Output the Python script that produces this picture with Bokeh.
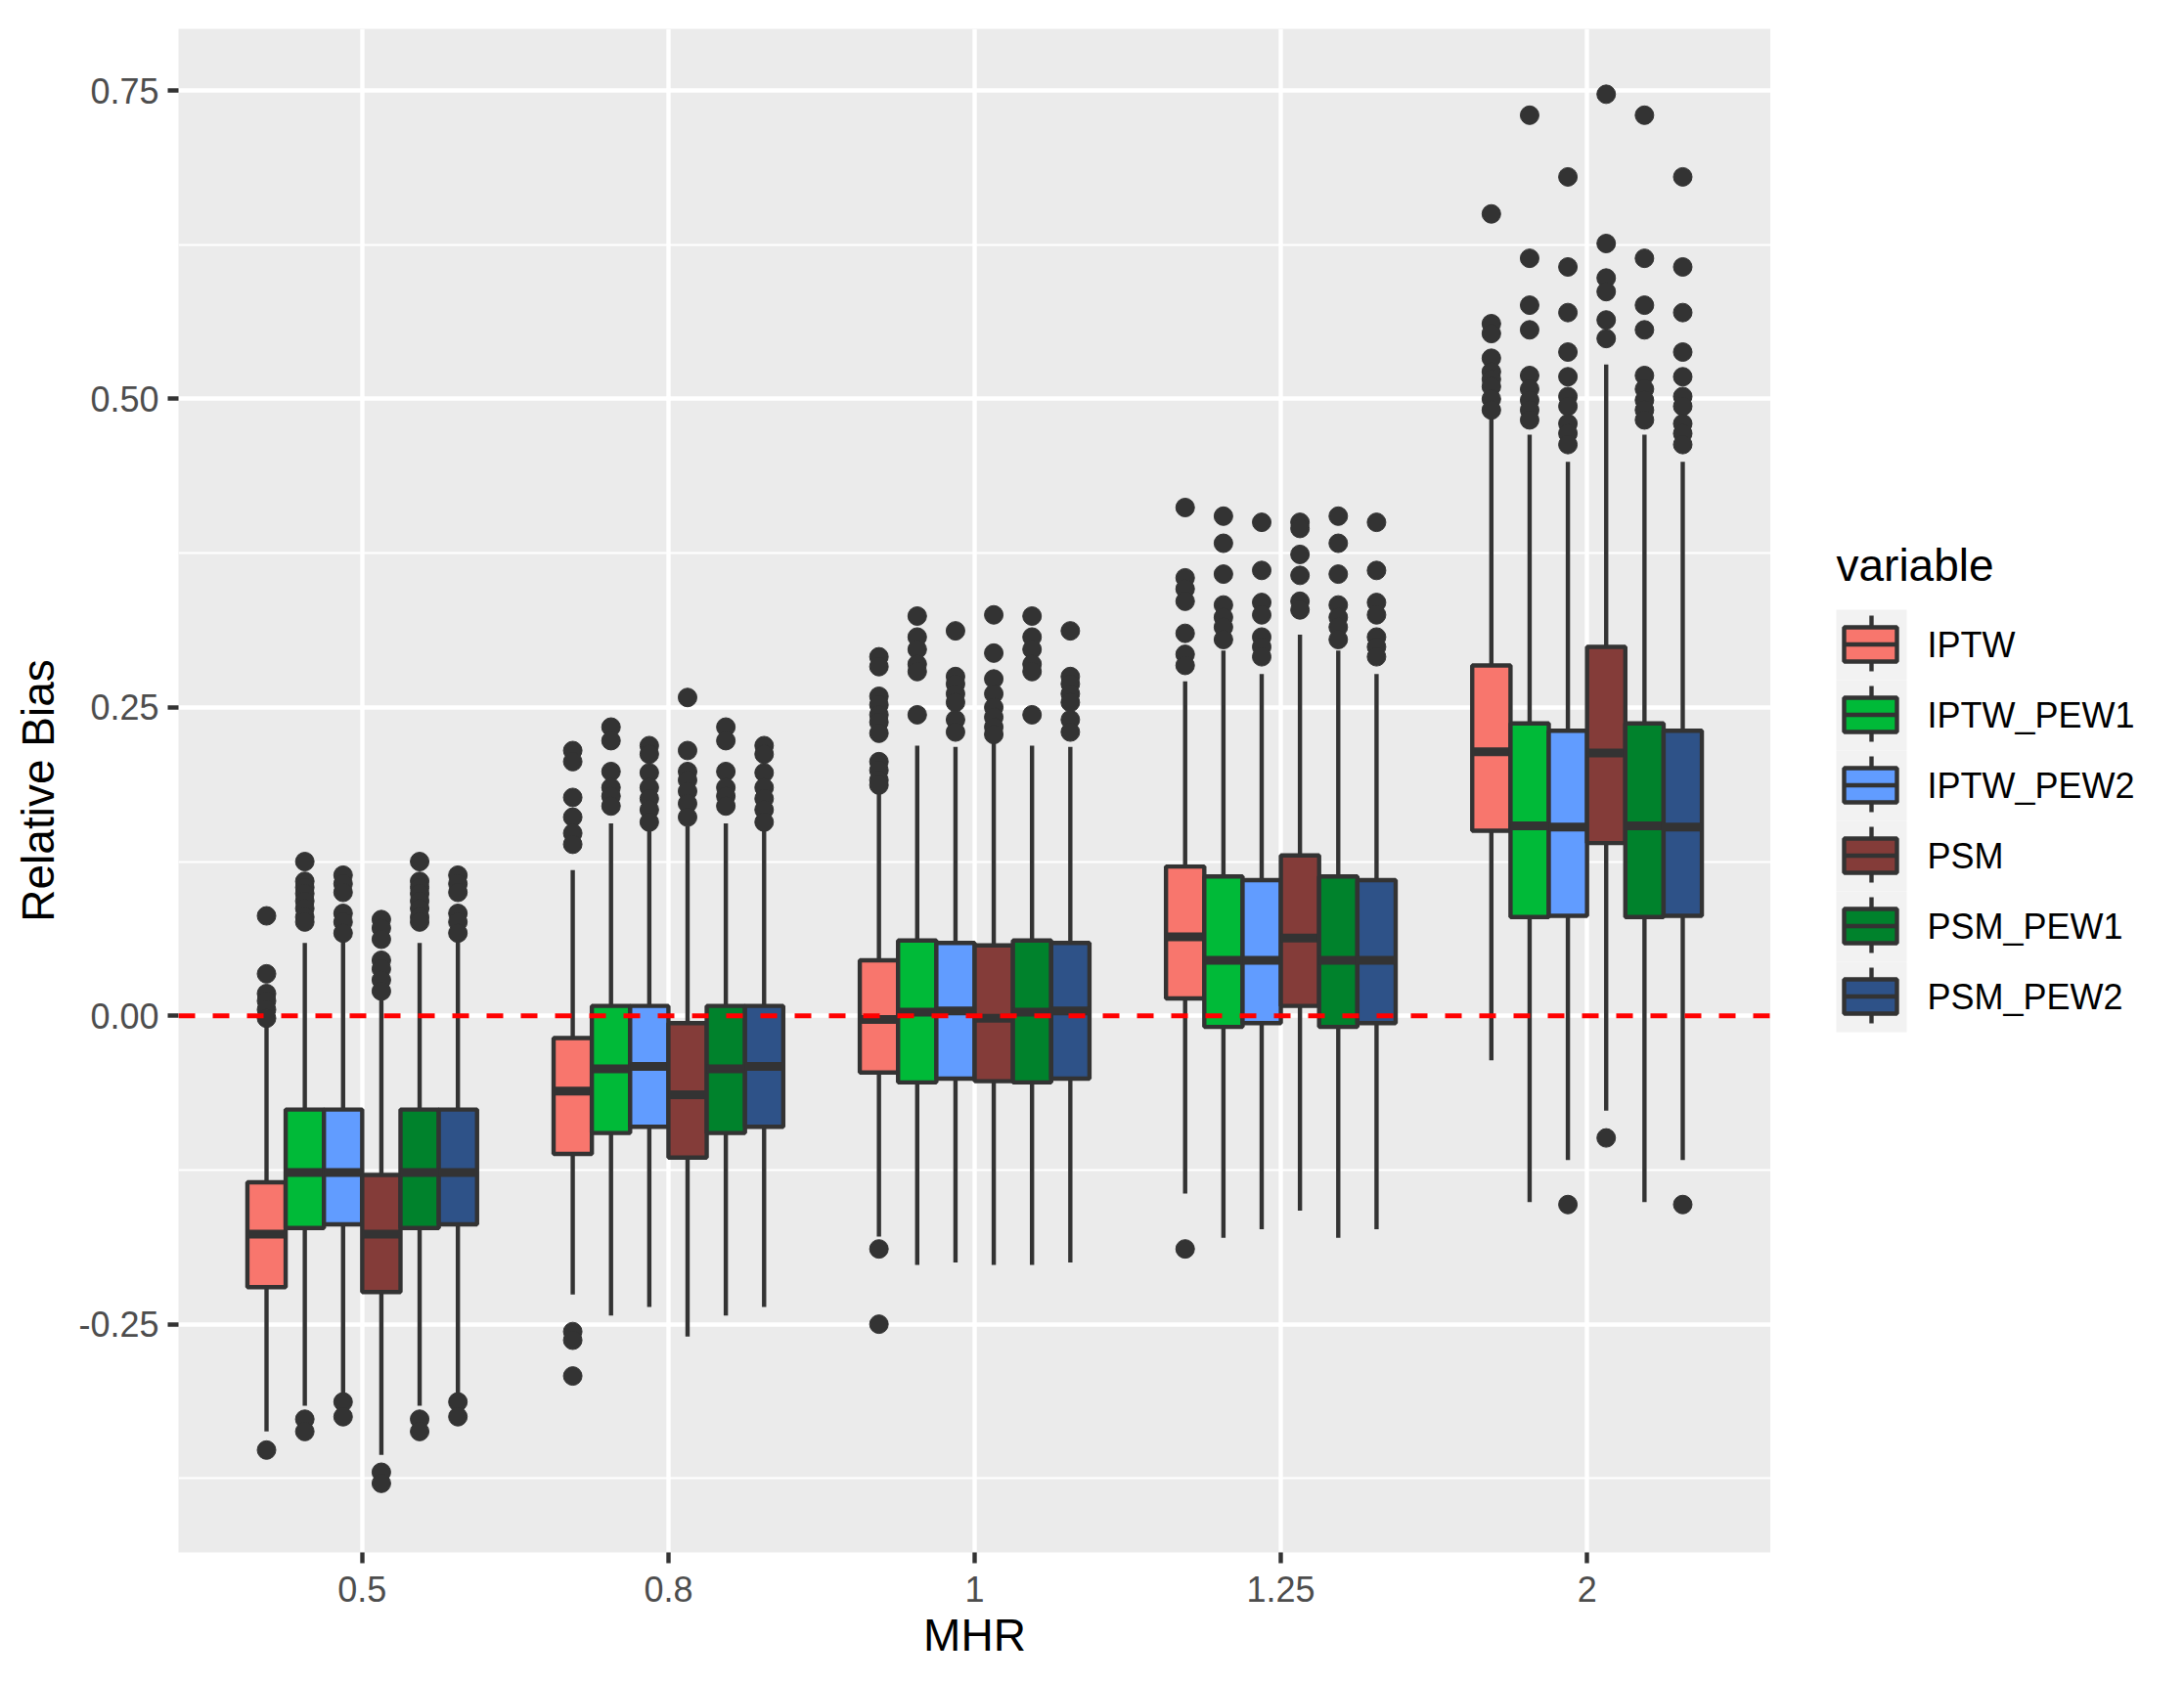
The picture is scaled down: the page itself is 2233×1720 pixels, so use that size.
from bokeh.plotting import figure
from bokeh.layouts import row
from bokeh.models import (Range1d, FixedTicker, NumeralTickFormatter, Span,
                          ColumnDataSource)
from bokeh.core.properties import value
from bokeh.embed import file_html
from bokeh.resources import INLINE

# ---------------- data ----------------
methods = ["IPTW", "IPTW_PEW1", "IPTW_PEW2", "PSM", "PSM_PEW1", "PSM_PEW2"]
mhr_labels = ["0.5", "0.8", "1", "1.25", "2"]

# rows = methods, columns = MHR groups
lower = [
    [-0.337, -0.226, -0.179, -0.144, -0.036],
    [-0.316, -0.243, -0.202, -0.180, -0.151],
    [-0.306, -0.236, -0.200, -0.173, -0.117],
    [-0.356, -0.260, -0.202, -0.158, -0.077],
    [-0.316, -0.243, -0.202, -0.180, -0.151],
    [-0.306, -0.236, -0.200, -0.173, -0.117],
]
q1 = [
    [-0.220, -0.112, -0.046, 0.014, 0.150],
    [-0.172, -0.095, -0.054, -0.009, 0.080],
    [-0.169, -0.090, -0.051, -0.006, 0.081],
    [-0.224, -0.115, -0.053, 0.008, 0.140],
    [-0.172, -0.095, -0.054, -0.009, 0.080],
    [-0.169, -0.090, -0.051, -0.006, 0.081],
]
median = [
    [-0.177, -0.061, -0.003, 0.064, 0.214],
    [-0.127, -0.043, 0.003, 0.045, 0.154],
    [-0.127, -0.041, 0.004, 0.045, 0.153],
    [-0.177, -0.064, -0.002, 0.063, 0.213],
    [-0.127, -0.043, 0.003, 0.045, 0.154],
    [-0.127, -0.041, 0.004, 0.045, 0.153],
]
q3 = [
    [-0.135, -0.018, 0.045, 0.121, 0.284],
    [-0.076, 0.008, 0.061, 0.113, 0.237],
    [-0.076, 0.008, 0.059, 0.110, 0.231],
    [-0.129, -0.006, 0.057, 0.130, 0.299],
    [-0.076, 0.008, 0.061, 0.113, 0.237],
    [-0.076, 0.008, 0.059, 0.110, 0.231],
]
upper = [
    [-0.007, 0.118, 0.181, 0.271, 0.485],
    [0.059, 0.156, 0.219, 0.296, 0.471],
    [0.060, 0.150, 0.218, 0.277, 0.449],
    [0.013, 0.154, 0.226, 0.309, 0.528],
    [0.059, 0.156, 0.219, 0.296, 0.471],
    [0.060, 0.150, 0.218, 0.277, 0.449],
]
outliers = [
    [[0.081, 0.034, 0.018, 0.012, 0.005, -0.002, -0.352],
     [0.215, 0.206, 0.177, 0.161, 0.148, 0.139, -0.256, -0.263, -0.292],
     [0.291, 0.283, 0.259, 0.252, 0.244, 0.238, 0.229, 0.206, 0.199, 0.191, 0.187, -0.189, -0.250],
     [0.412, 0.355, 0.346, 0.336, 0.310, 0.293, 0.284, -0.189],
     [0.650, 0.561, 0.553, 0.533, 0.522, 0.516, 0.510, 0.500, 0.491]],
    [[0.125, 0.109, 0.104, 0.099, 0.093, 0.087, 0.080, 0.076, -0.327, -0.337],
     [0.234, 0.223, 0.198, 0.185, 0.178, 0.170],
     [0.324, 0.307, 0.297, 0.285, 0.279, 0.244],
     [0.405, 0.383, 0.358, 0.333, 0.323, 0.315, 0.305],
     [0.730, 0.614, 0.576, 0.556, 0.519, 0.508, 0.499, 0.491, 0.483]],
    [[0.114, 0.107, 0.100, 0.083, 0.076, 0.067, -0.313, -0.325],
     [0.219, 0.212, 0.197, 0.185, 0.176, 0.167, 0.157],
     [0.312, 0.275, 0.269, 0.261, 0.254, 0.240, 0.230],
     [0.400, 0.361, 0.335, 0.325, 0.307, 0.299, 0.291],
     [0.680, 0.607, 0.570, 0.538, 0.518, 0.502, 0.494, 0.480, 0.472, 0.463, -0.153]],
    [[0.078, 0.071, 0.062, 0.045, 0.038, 0.029, 0.020, -0.370, -0.379],
     [0.258, 0.215, 0.198, 0.191, 0.182, 0.172, 0.161],
     [0.325, 0.294, 0.273, 0.261, 0.250, 0.242, 0.234, 0.228],
     [0.400, 0.395, 0.374, 0.357, 0.336, 0.329],
     [0.747, 0.626, 0.598, 0.587, 0.564, 0.549, -0.099]],
    [[0.125, 0.109, 0.104, 0.099, 0.093, 0.087, 0.080, 0.076, -0.327, -0.337],
     [0.234, 0.223, 0.198, 0.185, 0.178, 0.170],
     [0.324, 0.307, 0.297, 0.285, 0.279, 0.244],
     [0.405, 0.383, 0.358, 0.333, 0.323, 0.315, 0.305],
     [0.730, 0.614, 0.576, 0.556, 0.519, 0.508, 0.499, 0.491, 0.483]],
    [[0.114, 0.107, 0.100, 0.083, 0.076, 0.067, -0.313, -0.325],
     [0.219, 0.212, 0.197, 0.185, 0.176, 0.167, 0.157],
     [0.312, 0.275, 0.269, 0.261, 0.254, 0.240, 0.230],
     [0.400, 0.361, 0.335, 0.325, 0.307, 0.299, 0.291],
     [0.680, 0.607, 0.570, 0.538, 0.518, 0.502, 0.494, 0.480, 0.472, 0.463, -0.153]],
]

# ---------------- styling ----------------
colors = ["#F8766D", "#00BA38", "#619CFF", "#843C39", "#00822C", "#2E5288"]
FONT = "Liberation Sans"
DARK = "#333333"
BOX_W = 0.125
n_m = len(methods)
H = 1704
FRAME_TOP, FRAME_BOTTOM = 29, 1587

p = figure(width=1810, height=H, output_backend="svg", toolbar_location=None,
           x_range=Range1d(0.4, 5.6), y_range=Range1d(-0.435, 0.800),
           min_border_left=182, min_border_top=FRAME_TOP,
           min_border_bottom=H - FRAME_BOTTOM, min_border_right=0)
p.background_fill_color = "#EBEBEB"
p.border_fill_color = "white"
p.outline_line_color = None

# axes
p.xaxis.ticker = FixedTicker(ticks=[1, 2, 3, 4, 5])
p.xaxis.major_label_overrides = {i + 1: lab for i, lab in enumerate(mhr_labels)}
p.yaxis.ticker = FixedTicker(ticks=[-0.25, 0, 0.25, 0.5, 0.75],
                             minor_ticks=[-0.375, -0.125, 0.125, 0.375, 0.625])
p.yaxis.formatter = NumeralTickFormatter(format="0.00")
for ax in (p.xaxis[0], p.yaxis[0]):
    ax.axis_line_color = None
    ax.major_tick_line_color = DARK
    ax.major_tick_line_width = 4.4
    ax.major_tick_out = 11
    ax.major_tick_in = 0
    ax.minor_tick_line_color = None
    ax.major_label_text_font = FONT
    ax.major_label_text_font_size = "36px"
    ax.major_label_text_color = "#4D4D4D"
    ax.major_label_standoff = 9
    ax.axis_label_text_font = FONT
    ax.axis_label_text_font_size = "46px"
    ax.axis_label_text_font_style = "normal"
    ax.axis_label_text_color = "black"
p.xaxis.major_label_standoff = 13
p.xaxis.axis_label = "MHR"
p.yaxis.axis_label = "Relative Bias"
p.xaxis.axis_label_standoff = 5
p.yaxis.axis_label_standoff = 12

# grid
p.xgrid.grid_line_color = "white"
p.xgrid.grid_line_width = 4.4
p.ygrid.grid_line_color = "white"
p.ygrid.grid_line_width = 4.4
p.ygrid.minor_grid_line_color = "white"
p.ygrid.minor_grid_line_width = 2.2

for i, m in enumerate(methods):
    xs = [g + 1 + (i - (n_m - 1) / 2) * BOX_W for g in range(len(mhr_labels))]
    src = ColumnDataSource(dict(
        x=xs,
        x0=[x - BOX_W / 2 for x in xs],
        x1=[x + BOX_W / 2 for x in xs],
        lo=lower[i], q1=q1[i], med=median[i], q3=q3[i], hi=upper[i]))
    p.segment(x0="x", y0="q3", x1="x", y1="hi", source=src,
              line_color=DARK, line_width=4.4)
    p.segment(x0="x", y0="q1", x1="x", y1="lo", source=src,
              line_color=DARK, line_width=4.4)
    p.vbar(x="x", width=BOX_W, top="q3", bottom="q1", source=src,
           fill_color=colors[i], line_color=DARK, line_width=4.4)
    p.segment(x0="x0", y0="med", x1="x1", y1="med", source=src,
              line_color=DARK, line_width=9, line_cap="butt")
    ox, oy = [], []
    for g in range(len(mhr_labels)):
        for v in outliers[i][g]:
            ox.append(xs[g])
            oy.append(v)
    p.scatter(ox, oy, size=19, color=DARK, marker="circle")

p.add_layout(Span(location=0, dimension="width", line_color="red",
                  line_width=5, line_dash="17 18"))

# ---------------- legend panel (page-pixel coordinates, y downwards) ----------------
# The row aligns this panel's frame with the main frame (FRAME_TOP..FRAME_BOTTOM).
LW = 407
lf = figure(width=LW, height=H, output_backend="svg", toolbar_location=None,
            x_range=Range1d(0, LW), y_range=Range1d(FRAME_BOTTOM, FRAME_TOP),
            x_axis_location=None, y_axis_location=None,
            min_border_left=0, min_border_right=0,
            min_border_top=FRAME_TOP, min_border_bottom=H - FRAME_BOTTOM,
            outline_line_color=None)
lf.background_fill_color = "white"
lf.border_fill_color = "white"
lf.xgrid.visible = False
lf.ygrid.visible = False

KEY_L, KEY_W, ROW_H, TOP = 67, 72, 72, 623
rows_top = [TOP + k * ROW_H for k in range(n_m)]
cx = KEY_L + KEY_W / 2
lf.quad(left=[KEY_L] * n_m, right=[KEY_L + KEY_W] * n_m,
        top=rows_top, bottom=[t + ROW_H for t in rows_top],
        fill_color="#F2F2F2", line_color=None)
lf.segment(x0=[cx] * n_m, y0=[t + 6 for t in rows_top],
           x1=[cx] * n_m, y1=[t + 63 for t in rows_top],
           line_color=DARK, line_width=4.4)
lf.quad(left=[KEY_L + 8] * n_m, right=[KEY_L + KEY_W - 10] * n_m,
        top=[t + 18 for t in rows_top], bottom=[t + 53 for t in rows_top],
        fill_color=colors, line_color=DARK, line_width=4.4)
lf.segment(x0=[KEY_L + 8] * n_m, y0=[t + 35.5 for t in rows_top],
           x1=[KEY_L + KEY_W - 10] * n_m, y1=[t + 35.5 for t in rows_top],
           line_color=DARK, line_width=4.4, line_cap="butt")
lf.text(x=[KEY_L + 93] * n_m, y=[t + 36 for t in rows_top], text=methods,
        text_font=value(FONT), text_font_size="36px", text_color="black",
        text_align="left", text_baseline="middle")
lf.text(x=[KEY_L], y=[577], text=["variable"],
        text_font=value(FONT), text_font_size="46px", text_color="black",
        text_align="left", text_baseline="middle")

open("out.html", "w").write(file_html(row(p, lf), INLINE))
